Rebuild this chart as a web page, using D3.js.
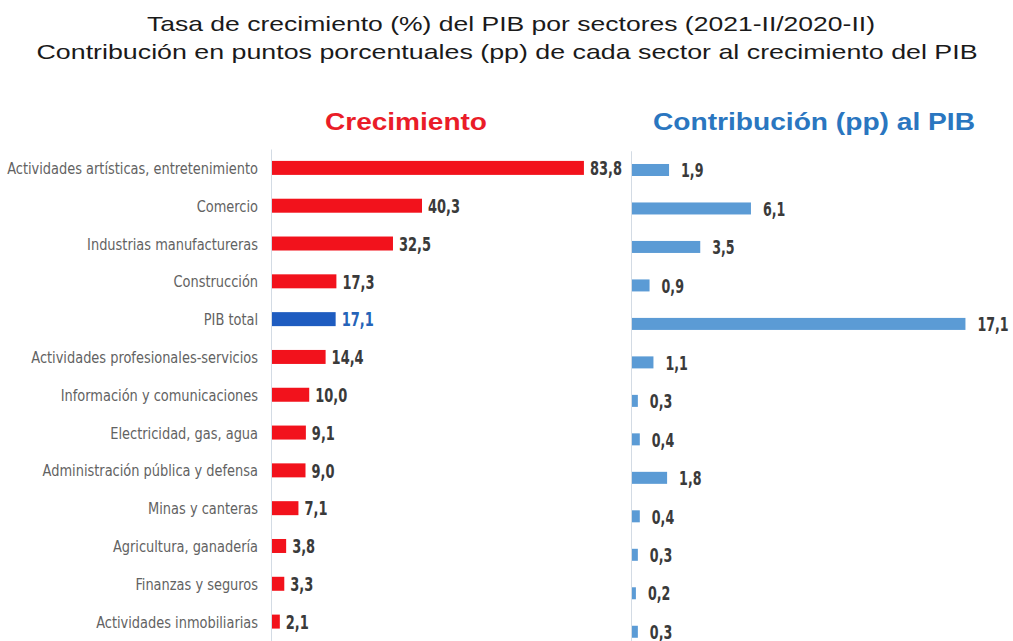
<!DOCTYPE html>
<html>
<head>
<meta charset="utf-8">
<script src="https://cdn.jsdelivr.net/npm/d3@7"></script>
<style>
  body { margin: 0; background: #fff; }
  svg { display: block; }
</style>
</head>
<body>
<svg width="1013" height="641"></svg>
<script>

let sectors = [
  'Actividades artísticas, entretenimiento',
  'Comercio',
  'Industrias manufactureras',
  'Construcción',
  'PIB total',
  'Actividades profesionales-servicios',
  'Información y comunicaciones',
  'Electricidad, gas, agua',
  'Administración pública y defensa',
  'Minas y canteras',
  'Agricultura, ganadería',
  'Finanzas y seguros',
  'Actividades inmobiliarias'
];

let growth = [83.8, 40.3, 32.5, 17.3, 17.1, 14.4, 10.0, 9.1, 9.0, 7.1, 3.8, 3.3, 2.1];
let contribution = [1.9, 6.1, 3.5, 0.9, 17.1, 1.1, 0.3, 0.4, 1.8, 0.4, 0.3, 0.2, 0.3];

let titleLines = [
  'Tasa de crecimiento (%) del PIB por sectores (2021-II/2020-II)',
  'Contribución en puntos porcentuales (pp) de cada sector al crecimiento del PIB'
];

let growthData = sectors.map(function(s, i) { return { sector: s, value: growth[i] }; });
let contribData = sectors.map(function(s, i) { return { sector: s, value: contribution[i] }; });

let esLocale = d3.formatLocale({ decimal: ',', thousands: '.', grouping: [3], currency: ['', ' €'] });
let fmt = esLocale.format('.1f');

let svg = d3.select('svg');

let narrow = '"Liberation Sans Narrow", "DejaVu Sans Condensed", sans-serif';

// squeeze text horizontally (the original uses a narrow Calibri-like face)
function squeeze(selection, k) {
  selection.each(function() {
    let w = this.getComputedTextLength();
    d3.select(this)
      .attr('textLength', w * k)
      .attr('lengthAdjust', 'spacingAndGlyphs');
  });
}

// titles
svg.append('text')
   .attr('x', 511).attr('y', 31)
   .attr('text-anchor', 'middle')
   .attr('textLength', 728).attr('lengthAdjust', 'spacingAndGlyphs')
   .style('font-family', 'Liberation Sans, Arial, sans-serif')
   .style('font-size', '21px')
   .style('fill', '#1a1a1a')
   .text(titleLines[0]);

svg.append('text')
   .attr('x', 507).attr('y', 59)
   .attr('text-anchor', 'middle')
   .attr('textLength', 941).attr('lengthAdjust', 'spacingAndGlyphs')
   .style('font-family', 'Liberation Sans, Arial, sans-serif')
   .style('font-size', '21px')
   .style('fill', '#1a1a1a')
   .text(titleLines[1]);

svg.append('text')
   .attr('x', 406).attr('y', 130)
   .attr('text-anchor', 'middle')
   .attr('textLength', 162).attr('lengthAdjust', 'spacingAndGlyphs')
   .style('font-family', 'Liberation Sans, Arial, sans-serif')
   .style('font-weight', 'bold')
   .style('font-size', '23px')
   .style('fill', '#ea1c28')
   .text('Crecimiento');

svg.append('text')
   .attr('x', 814).attr('y', 130)
   .attr('text-anchor', 'middle')
   .attr('textLength', 322).attr('lengthAdjust', 'spacingAndGlyphs')
   .style('font-family', 'Liberation Sans, Arial, sans-serif')
   .style('font-weight', 'bold')
   .style('font-size', '23px')
   .style('fill', '#2a76c0')
   .text('Contribución (pp) al PIB');

// left panel: growth
let yLeft = d3.scaleBand()
              .domain(sectors)
              .range([149, 640.5])
              .paddingInner(0.63)
              .paddingOuter(0.315);

let xLeft = d3.scaleLinear()
              .domain([0, 90])
              .range([272, 607]);

let yAxisLeft = d3.axisLeft(yLeft)
                  .tickSize(0)
                  .tickPadding(13);

let leftAxisG = svg.append('g')
   .attr('id', 'yAxisLeft')
   .attr('transform', 'translate(271,0)')
   .call(yAxisLeft);

leftAxisG.select('.domain')
   .attr('stroke', '#d3dbe4')
   .attr('stroke-width', 1);

leftAxisG.selectAll('text')
   .attr('dy', '0.38em')
   .style('font-family', narrow)
   .style('font-size', '16px')
   .style('fill', '#626262')
   .call(squeeze, 0.9);

svg.selectAll('rect.growth')
   .data(growthData)
   .enter()
   .append('rect')
   .attr('class', 'growth')
   .attr('x', xLeft(0))
   .attr('y', function(d) { return yLeft(d.sector); })
   .attr('width', function(d) { return xLeft(d.value) - xLeft(0); })
   .attr('height', yLeft.bandwidth())
   .style('fill', function(d) { return d.sector === 'PIB total' ? '#1e5cc0' : '#f2121c'; });

svg.selectAll('text.growthLabel')
   .data(growthData)
   .enter()
   .append('text')
   .attr('class', 'growthLabel')
   .attr('x', function(d) { return xLeft(d.value) + 6; })
   .attr('y', function(d) { return yLeft(d.sector) + yLeft.bandwidth() / 2; })
   .attr('dy', '0.38em')
   .style('font-family', narrow)
   .style('font-weight', 'bold')
   .style('font-size', '19px')
   .style('fill', function(d) { return d.sector === 'PIB total' ? '#2563b8' : '#3a3a3a'; })
   .text(function(d) { return fmt(d.value); })
   .call(squeeze, 0.76);

// right panel: contribution
let yRight = d3.scaleBand()
               .domain(sectors)
               .range([150.75, 651])
               .paddingInner(0.688)
               .paddingOuter(0.344);

let xRight = d3.scaleLinear()
               .domain([0, 18])
               .range([632, 983]);

let yAxisRight = d3.axisLeft(yRight)
                   .tickSize(0)
                   .tickFormat('');

let rightAxisG = svg.append('g')
   .attr('id', 'yAxisRight')
   .attr('transform', 'translate(631,0)')
   .call(yAxisRight);

rightAxisG.select('.domain')
   .attr('stroke', '#d3dbe4')
   .attr('stroke-width', 1);

svg.selectAll('rect.contrib')
   .data(contribData)
   .enter()
   .append('rect')
   .attr('class', 'contrib')
   .attr('x', xRight(0))
   .attr('y', function(d) { return yRight(d.sector); })
   .attr('width', function(d) { return xRight(d.value) - xRight(0); })
   .attr('height', yRight.bandwidth())
   .style('fill', '#5b9bd5');

svg.selectAll('text.contribLabel')
   .data(contribData)
   .enter()
   .append('text')
   .attr('class', 'contribLabel')
   .attr('x', function(d) { return xRight(d.value) + 12; })
   .attr('y', function(d) { return yRight(d.sector) + yRight.bandwidth() / 2; })
   .attr('dy', '0.38em')
   .style('font-family', narrow)
   .style('font-weight', 'bold')
   .style('font-size', '19px')
   .style('fill', '#3a3a3a')
   .text(function(d) { return fmt(d.value); })
   .call(squeeze, 0.74);

</script>
</body>
</html>
